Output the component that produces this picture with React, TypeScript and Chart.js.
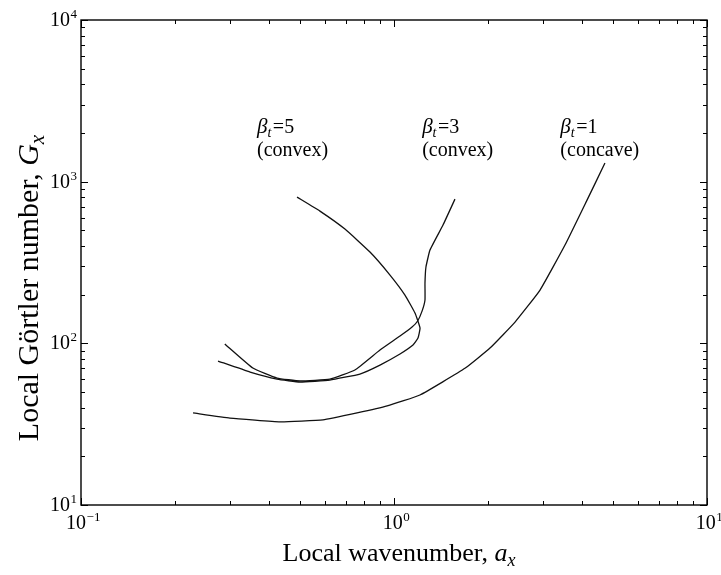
import React, { useEffect, useRef } from "react";
import { Chart, registerables } from "chart.js";

Chart.register(...registerables);

// beta_t = 1 (concave)
const beta1X = [0.228, 0.299, 0.433, 0.593, 0.762, 0.951, 1.21, 1.69, 2.026, 2.436, 2.928, 3.518, 4.137, 4.72];
const beta1Y = [37.1, 34.5, 32.7, 33.6, 37.1, 41.0, 47.9, 70.3, 93.5, 135.4, 213.6, 405.5, 769, 1303];

// beta_t = 3 (convex)
const beta3X = [0.288, 0.354, 0.423, 0.501, 0.624, 0.75, 0.902, 1.045, 1.142, 1.19, 1.23, 1.256, 1.256, 1.265, 1.303, 1.434, 1.566];
const beta3Y = [99.0, 70.3, 61.0, 58.5, 60.1, 68.4, 90.9, 110.9, 126.1, 137.4, 158.7, 185.3, 236, 296.5, 377.6, 539, 780];

// beta_t = 5 (convex)
const beta5X = [0.274, 0.347, 0.423, 0.501, 0.624, 0.778, 0.902, 1.045, 1.15, 1.193, 1.211, 1.167, 1.084, 0.971, 0.838, 0.697, 0.58, 0.49];
const beta5Y = [77.7, 66.4, 60.1, 57.6, 59.3, 64.6, 73.4, 85.9, 97.6, 107.8, 124.4, 154, 198.9, 264.5, 367, 509, 657.7, 803];

const xMajor = [0.1, 1, 10];
const xMajorExp = ["\u22121", "0", "1"];
const yMajor = [10, 100, 1000, 10000];
const yMajorExp = ["1", "2", "3", "4"];

const curveLabels = [
  { sub: "=5", note: "(convex)", x: 0.365, y: 2000 },
  { sub: "=3", note: "(convex)", x: 1.23, y: 2000 },
  { sub: "=1", note: "(concave)", x: 3.4, y: 2000 },
];

const FONT = '"Liberation Serif", "Times New Roman", serif';

function pts(xs: number[], ys: number[]) {
  return xs.map((x, i) => ({ x, y: ys[i] }));
}

function minorTicks(majors: number[]) {
  const out: number[] = [];
  for (let i = 0; i < majors.length - 1; i++) {
    for (let k = 2; k <= 9; k++) out.push(majors[i] * k);
  }
  return out;
}

const decor = {
  id: "decor",
  afterDraw(chart: any) {
    const { ctx, chartArea: a, scales } = chart;
    const xs = scales.x;
    const ys = scales.y;
    ctx.save();
    ctx.strokeStyle = "#000";
    ctx.fillStyle = "#000";
    ctx.lineWidth = 1.4;
    ctx.strokeRect(a.left, a.top, a.right - a.left, a.bottom - a.top);
    ctx.lineWidth = 1;
    const seg = (x1: number, y1: number, x2: number, y2: number) => {
      ctx.beginPath();
      ctx.moveTo(x1, y1);
      ctx.lineTo(x2, y2);
      ctx.stroke();
    };
    const xTick = (v: number, len: number) => {
      const p = Math.round(xs.getPixelForValue(v)) + 0.5;
      seg(p, a.bottom, p, a.bottom - len);
      seg(p, a.top, p, a.top + len);
    };
    const yTick = (v: number, len: number) => {
      const p = Math.round(ys.getPixelForValue(v)) + 0.5;
      seg(a.left, p, a.left + len, p);
      seg(a.right, p, a.right - len, p);
    };
    xMajor.forEach((v) => xTick(v, 7));
    minorTicks(xMajor).forEach((v) => xTick(v, 4));
    yMajor.forEach((v) => yTick(v, 7));
    minorTicks(yMajor).forEach((v) => yTick(v, 4));

    const fs = 20;
    const sfs = 13;
    const powWidth = (exp: string) => {
      ctx.font = `${fs}px ${FONT}`;
      const w1 = ctx.measureText("10").width;
      ctx.font = `${sfs}px ${FONT}`;
      const w2 = ctx.measureText(exp).width;
      return [w1, w2];
    };
    const drawPow = (exp: string, left: number, base: number) => {
      const [w1] = powWidth(exp);
      ctx.textAlign = "left";
      ctx.textBaseline = "alphabetic";
      ctx.font = `${fs}px ${FONT}`;
      ctx.fillText("10", left, base);
      ctx.font = `${sfs}px ${FONT}`;
      ctx.fillText(exp, left + w1 + 0.5, base - 8);
    };
    yMajor.forEach((v, i) => {
      const p = ys.getPixelForValue(v);
      const [w1, w2] = powWidth(yMajorExp[i]);
      drawPow(yMajorExp[i], 77 - (w1 + w2 + 0.5), p + 6);
    });
    xMajor.forEach((v, i) => {
      const p = xs.getPixelForValue(v);
      const [w1, w2] = powWidth(xMajorExp[i]);
      drawPow(xMajorExp[i], p + 2 - (w1 + w2) / 2, a.bottom + 24);
    });

    const drawTitle = (text: string, ital: string, cx: number, cy: number, rot: boolean, tfs: number) => {
      ctx.save();
      ctx.translate(cx, cy);
      if (rot) ctx.rotate(-Math.PI / 2);
      ctx.textAlign = "left";
      ctx.textBaseline = "alphabetic";
      ctx.font = `${tfs}px ${FONT}`;
      const w1 = ctx.measureText(text).width;
      ctx.font = `italic ${tfs}px ${FONT}`;
      const w2 = ctx.measureText(ital).width;
      ctx.font = `italic ${Math.round(tfs * 0.7)}px ${FONT}`;
      const w3 = ctx.measureText("x").width;
      const total = w1 + w2 + w3;
      const x0 = -total / 2;
      ctx.font = `${tfs}px ${FONT}`;
      ctx.fillText(text, x0, 0);
      ctx.font = `italic ${tfs}px ${FONT}`;
      ctx.fillText(ital, x0 + w1, 0);
      ctx.font = `italic ${Math.round(tfs * 0.7)}px ${FONT}`;
      ctx.fillText("x", x0 + w1 + w2, Math.round(tfs * 0.2));
      ctx.restore();
    };
    drawTitle("Local wavenumber, ", "a", 399, 561, false, 26);
    drawTitle("Local G\u00f6rtler number, ", "G", 38, 288, true, 30);

    curveLabels.forEach((c) => {
      const px = xs.getPixelForValue(c.x);
      const py = ys.getPixelForValue(c.y);
      ctx.textAlign = "left";
      ctx.textBaseline = "alphabetic";
      ctx.font = `italic 21px ${FONT}`;
      ctx.fillText("\u03b2", px, py);
      const wb = ctx.measureText("\u03b2").width;
      ctx.font = `italic 14px ${FONT}`;
      ctx.fillText("t", px + wb, py + 4);
      const wt = ctx.measureText("t").width;
      ctx.font = `20px ${FONT}`;
      ctx.fillText(c.sub, px + wb + wt + 1.5, py);
      ctx.fillText(c.note, px, py + 23);
    });
    ctx.restore();
  },
};

export default function App() {
  const ref = useRef<HTMLCanvasElement>(null);
  useEffect(() => {
    if (!ref.current) return;
    const ds = (xs: number[], ys: number[], label: string) => ({
      label,
      data: pts(xs, ys),
      showLine: true,
      borderColor: "#111",
      borderWidth: 1.3,
      pointRadius: 0,
      tension: 0.12,
      fill: false,
    });
    const chart = new Chart(ref.current, {
      type: "scatter",
      data: {
        datasets: [
          ds(beta1X, beta1Y, "\u03b2t=1 (concave)"),
          ds(beta3X, beta3Y, "\u03b2t=3 (convex)"),
          ds(beta5X, beta5Y, "\u03b2t=5 (convex)"),
        ],
      },
      options: {
        responsive: false,
        animation: false,
        layout: { padding: { left: 81, right: 14, top: 20, bottom: 70 } },
        plugins: { legend: { display: false }, tooltip: { enabled: false } },
        scales: {
          x: { type: "logarithmic", min: 0.1, max: 10, display: false },
          y: { type: "logarithmic", min: 10, max: 10000, display: false },
        },
      },
      plugins: [decor],
    });
    return () => chart.destroy();
  }, []);
  return (
    <div style={{ position: "fixed", left: 0, top: 0, width: 721, height: 575, background: "#fff" }}>
      <canvas ref={ref} width={721} height={575} style={{ display: "block" }} />
    </div>
  );
}
